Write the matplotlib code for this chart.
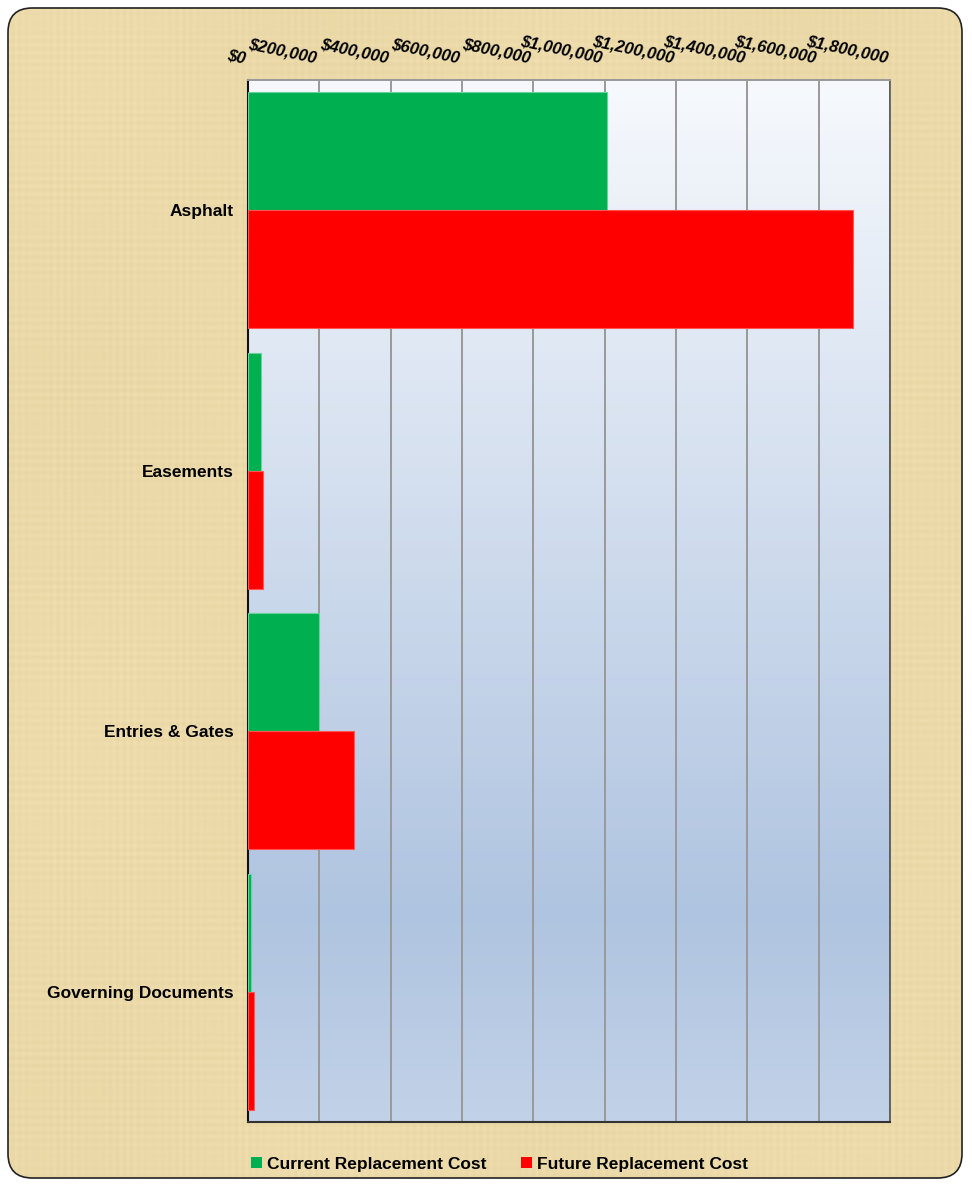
import numpy as np
import matplotlib
matplotlib.use("Agg")
import matplotlib.pyplot as plt
from matplotlib.patches import FancyBboxPatch, Patch
from matplotlib.ticker import FuncFormatter
import matplotlib.transforms as mtransforms

categories = ["Asphalt", "Easements", "Entries & Gates", "Governing Documents"]
current_cost = [1006000, 36000, 199000, 8500]
future_cost = [1696000, 43000, 297000, 17000]
series_names = ["Current Replacement Cost", "Future Replacement Cost"]
x_ticks = [0, 200000, 400000, 600000, 800000, 1000000, 1200000, 1400000, 1600000, 1800000]

plt.rcParams['font.family'] = ['Liberation Sans', 'DejaVu Sans']

W, H = 972, 1186
fig = plt.figure(figsize=(W / 100, H / 100), dpi=100)
fig.patch.set_facecolor("white")

# papyrus-like textured background inside a rounded frame
bg_ax = fig.add_axes([0, 0, 1, 1], zorder=-5)
bg_ax.set_axis_off()
xx = np.arange(W)[None, :]
yy = np.arange(H)[:, None]
weave = (0.5 * np.sin(xx * 0.9) * np.sin(xx * 0.053 + 1.3)
         + 0.5 * np.sin(yy * 0.8 + 0.7) * np.sin(yy * 0.047 + 2.1)
         + 0.3 * np.sin(xx * 0.013 + 0.5) * np.sin(yy * 0.009 + 1.1))
base = np.array([0.925, 0.855, 0.665])
tex = base[None, None, :] + 0.018 * weave[:, :, None] * np.array([1.0, 1.0, 1.4])[None, None, :]
tex = np.clip(tex, 0, 1)
im = bg_ax.imshow(tex, extent=(0, 1, 0, 1), aspect="auto", transform=bg_ax.transAxes,
                  origin="upper", interpolation="bilinear")
clip = FancyBboxPatch((8 / W, 8 / H), (962 - 8) / W, (1178 - 8) / H,
                      boxstyle="round,pad=0,rounding_size=0.025",
                      transform=fig.transFigure, mutation_aspect=W / H,
                      facecolor="none", edgecolor="none")
im.set_clip_path(clip)
border = FancyBboxPatch((8 / W, 8 / H), (962 - 8) / W, (1178 - 8) / H,
                        boxstyle="round,pad=0,rounding_size=0.025",
                        transform=fig.transFigure, mutation_aspect=W / H,
                        facecolor="none", edgecolor="#222222", linewidth=1.2)
bg_ax.add_artist(border)

left, right, top, bottom = 248 / W, 890 / W, 1 - 80 / H, 1 - 1122 / H
ax = fig.add_axes([left, bottom, right - left, top - bottom])
ax.set_zorder(1)

# gradient background
grad = np.concatenate([np.linspace(0, 1, 80), np.linspace(1, 0.75, 20)])
c_top = np.array([0.965, 0.976, 0.992])
c_mid = np.array([0.69, 0.77, 0.88])
img = c_top[None, :] * (1 - grad[:, None]) + c_mid[None, :] * grad[:, None]
img = img[:, None, :]
ax.imshow(img, aspect="auto", extent=(0, 1, 0, 1), transform=ax.transAxes, zorder=0)

y = np.arange(len(categories))
h = 0.453
ax.barh(y - h / 2, current_cost, height=h, color="#00B050", edgecolor="#66D49A",
        linewidth=0.8, zorder=3, label=series_names[0])
ax.barh(y + h / 2, future_cost, height=h, color="#FF0000", edgecolor="#FF5555",
        linewidth=0.8, zorder=3, label=series_names[1])

ax.set_xlim(0, 1800000)
ax.set_ylim(3.5, -0.5)
ax.set_yticks(y)
ax.set_yticklabels(categories, fontsize=12.5, fontweight="bold")
ax.tick_params(axis="y", length=0, pad=10)

ax.xaxis.tick_top()
ax.set_xticks(x_ticks)
ax.xaxis.set_major_formatter(FuncFormatter(lambda v, p: "${:,.0f}".format(v)))
ax.tick_params(axis="x", length=0, pad=10)
offset = mtransforms.ScaledTranslation(-4 / 100, 0, fig.dpi_scale_trans)
for lbl in ax.get_xticklabels():
    lbl.set_fontsize(12)
    lbl.set_fontweight("bold")
    lbl.set_fontstyle("italic")
    lbl.set_rotation(-12)
    lbl.set_rotation_mode("anchor")
    lbl.set_ha("right")
    lbl.set_va("bottom")
    lbl.set_transform(lbl.get_transform() + offset)

ax.grid(axis="x", color="#999999", linewidth=1.4, zorder=1)
ax.set_axisbelow(True)
ax.spines["left"].set_color("#111111")
ax.spines["left"].set_linewidth(1.5)
ax.spines["bottom"].set_color("#333333")
ax.spines["bottom"].set_linewidth(1.5)
ax.spines["top"].set_color("#999999")
ax.spines["top"].set_linewidth(1.4)
ax.spines["right"].set_color("#555555")
ax.spines["right"].set_linewidth(1.2)

handles = [Patch(facecolor="#00B050", edgecolor="none", label=series_names[0]),
           Patch(facecolor="#FF0000", edgecolor="none", label=series_names[1])]
fig.legend(handles=handles, loc="center", bbox_to_anchor=(0.514, 1 - 1164 / H), ncol=2,
           frameon=False, handlelength=0.6, handleheight=0.6, handletextpad=0.3,
           columnspacing=2.0, prop={"size": 12.5, "weight": "bold"})

fig.savefig("out.png", dpi=100)
